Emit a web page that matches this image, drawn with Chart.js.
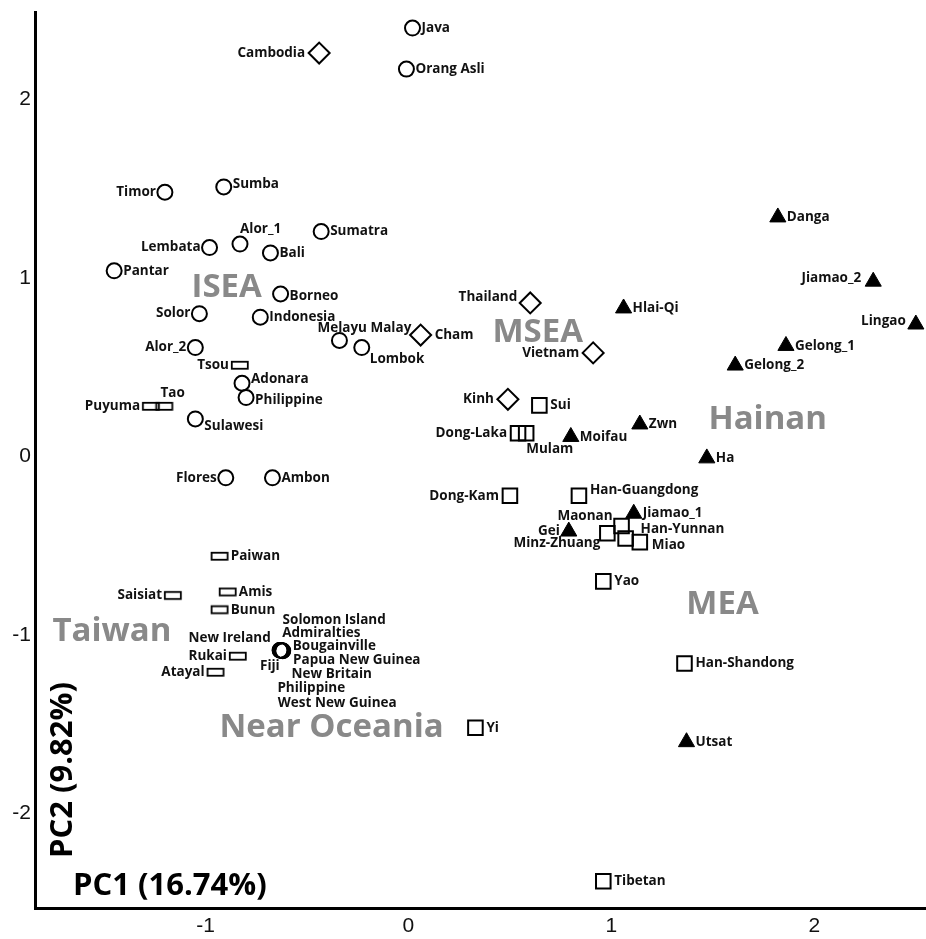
<!DOCTYPE html>
<html>
<head>
<meta charset="utf-8">
<script src="https://cdn.jsdelivr.net/npm/chart.js@4/dist/chart.umd.min.js"></script>
<style>
  html, body { margin: 0; padding: 0; background: #fff; overflow: hidden; }
  #c { display: block; }
</style>
</head>
<body>
<canvas id="c" width="926" height="939"></canvas>
<script>
// ---------------- DATA ----------------
const xTicks = [-1, 0, 1, 2];
const yTicks = [-2, -1, 0, 1, 2];

// ISEA (open circles)
const iseaNames = ['Java','Orang Asli','Timor','Sumba','Alor_1','Lembata','Bali','Sumatra','Pantar','Borneo','Solor','Indonesia','Melayu Malay','Lombok','Alor_2','Adonara','Philippine','Sulawesi','Flores','Ambon'];
const iseaPC1 = [0.02,-0.01,-1.20,-0.91,-0.83,-0.98,-0.68,-0.43,-1.45,-0.63,-1.03,-0.73,-0.34,-0.23,-1.05,-0.82,-0.80,-1.05,-0.90,-0.67];
const iseaPC2 = [2.40,2.17,1.48,1.51,1.19,1.17,1.14,1.26,1.04,0.91,0.80,0.78,0.65,0.61,0.61,0.41,0.33,0.21,-0.12,-0.12];

// Near Oceania (open circles)
const oceaniaNames = ['Solomon Island','Admiralties','New Ireland','Bougainville','Papua New Guinea','New Britain','Fiji','Philippine','West New Guinea'];
const oceaniaPC1 = [-0.630,-0.632,-0.634,-0.624,-0.618,-0.620,-0.633,-0.626,-0.619];
const oceaniaPC2 = [-1.085,-1.086,-1.085,-1.087,-1.089,-1.089,-1.087,-1.088,-1.090];

// Taiwan (open flat rectangles)
const taiwanNames = ['Tsou','Puyuma','Tao','Paiwan','Saisiat','Amis','Bunun','Rukai','Atayal'];
const taiwanPC1 = [-0.83,-1.268,-1.202,-0.93,-1.16,-0.89,-0.93,-0.84,-0.95];
const taiwanPC2 = [0.51,0.28,0.28,-0.56,-0.78,-0.76,-0.86,-1.12,-1.21];

// MSEA (open diamonds)
const mseaNames = ['Cambodia','Cham','Thailand','Vietnam','Kinh'];
const mseaPC1 = [-0.44,0.06,0.60,0.91,0.49];
const mseaPC2 = [2.26,0.68,0.86,0.58,0.32];

// MEA (open squares)
const meaNames = ['Maonan','Sui','Dong-Laka','Mulam','Dong-Kam','Han-Guangdong','Minz-Zhuang','Han-Yunnan','Miao','Yao','Han-Shandong','Yi','Tibetan'];
const meaPC1 = [1.05,0.645,0.54,0.58,0.50,0.84,0.98,1.07,1.14,0.96,1.36,0.33,0.96];
const meaPC2 = [-0.39,0.286,0.13,0.13,-0.22,-0.22,-0.43,-0.46,-0.48,-0.70,-1.16,-1.52,-2.38];

// Hainan (filled triangles)
const hainanNames = ['Danga','Jiamao_2','Hlai-Qi','Lingao','Gelong_1','Gelong_2','Zwn','Moifau','Ha','Jiamao_1','Gei','Utsat'];
const hainanPC1 = [1.82,2.29,1.06,2.50,1.86,1.61,1.14,0.80,1.47,1.11,0.79,1.37];
const hainanPC2 = [1.34,0.98,0.83,0.74,0.62,0.51,0.18,0.11,-0.01,-0.32,-0.42,-1.60];

// Region annotations (text, anchor in data units: left edge / baseline)
const regionNames = ['ISEA','MSEA','Hainan','MEA','Taiwan','Near Oceania'];
const regionPC1 = [-1.069,0.414,1.478,1.369,-1.754,-0.931];
const regionPC2 = [0.896,0.639,0.151,-0.885,-1.036,-1.574];

const xTitle = 'PC1 (16.74%)';
const yTitle = 'PC2 (9.82%)';

// ---------------- LAYOUT / STYLE ----------------
const labelFont = 'bold 13.5px "Open Sans"';
// default side per group and special placements [align, dx, dy] in px
const labelLayout = {
  isea: { gap: 9, left: ['Timor','Lembata','Solor','Alor_2','Flores'],
    special: { 'Sumba':['left',9,-3], 'Alor_1':['left',0,-15], 'Borneo':['left',9,2], 'Melayu Malay':['left',-22,-12],
               'Lombok':['left',8,12], 'Adonara':['left',9,-4], 'Philippine':['left',9,3], 'Sulawesi':['left',9,7] } },
  oceania: { gap: 9, left: [],
    special: { 'Solomon Island':['left',2,-30], 'Admiralties':['left',2,-17], 'New Ireland':['right',-9,-12],
               'Bougainville':['left',11,-4], 'Papua New Guinea':['left',10,9], 'New Britain':['left',9,23],
               'Fiji':['left',-20,16], 'Philippine':['left',-4,38], 'West New Guinea':['left',-5,52] } },
  taiwan: { gap: 11, left: ['Tsou','Puyuma','Saisiat','Rukai','Atayal'],
    special: { 'Tao':['left',-4,-13] } },
  msea: { gap: 14, left: ['Cambodia','Vietnam','Kinh'],
    special: { 'Thailand':['right',-13,-6] } },
  mea: { gap: 11, left: ['Dong-Laka','Dong-Kam'],
    special: { 'Mulam':['left',0,16], 'Han-Guangdong':['left',11,-6], 'Maonan':['right',-9,-10],
               'Minz-Zhuang':['right',-7,10], 'Han-Yunnan':['left',15,-9], 'Miao':['left',12,3] } },
  hainan: { gap: 9, left: ['Gei'],
    special: { 'Jiamao_2':['right',-12,-3], 'Lingao':['right',-10,-3] } }
};

function makeFlatRect(w, h, lw) {
  const c = document.createElement('canvas');
  c.width = Math.ceil(w + lw * 2);
  c.height = Math.ceil(h + lw * 2);
  const g = c.getContext('2d');
  g.lineWidth = lw;
  g.strokeStyle = '#000';
  g.strokeRect(lw, lw, w, h);
  return c;
}
const flatRect = makeFlatRect(16, 7, 1.8);

function pts(xs, ys) { return xs.map((x, i) => ({ x: x, y: ys[i] })); }

const groups = [
  { key: 'isea', names: iseaNames, data: pts(iseaPC1, iseaPC2), style: 'circle', radius: 7.5, bw: 2, fill: 'rgba(0,0,0,0)' },
  { key: 'oceania', names: oceaniaNames, data: pts(oceaniaPC1, oceaniaPC2), style: 'circle', radius: 7.5, bw: 1.4, fill: 'rgba(0,0,0,0)' },
  { key: 'taiwan', names: taiwanNames, data: pts(taiwanPC1, taiwanPC2), style: flatRect, radius: 8, bw: 0, fill: 'rgba(0,0,0,0)' },
  { key: 'msea', names: mseaNames, data: pts(mseaPC1, mseaPC2), style: 'rectRot', radius: 10.5, bw: 2, fill: 'rgba(0,0,0,0)' },
  { key: 'mea', names: meaNames, data: pts(meaPC1, meaPC2), style: 'rect', radius: 10.3, bw: 2, fill: 'rgba(0,0,0,0)' },
  { key: 'hainan', names: hainanNames, data: pts(hainanPC1, hainanPC2), style: 'triangle', radius: 9.3, bw: 1, fill: '#000' }
];

const datasets = groups.map(g => ({
  label: g.key,
  data: g.data,
  pointStyle: g.style,
  pointRadius: g.radius,
  pointHoverRadius: g.radius,
  pointBorderWidth: g.bw,
  pointBorderColor: '#000',
  pointBackgroundColor: g.fill,
  borderColor: '#000',
  backgroundColor: g.fill,
  clip: false
}));

const annotatePlugin = {
  id: 'annotate',
  afterDatasetsDraw(chart) {
    const ctx = chart.ctx;
    const xs = chart.scales.x, ys = chart.scales.y;
    ctx.save();
    // point labels
    ctx.font = labelFont;
    ctx.fillStyle = '#111';
    ctx.textBaseline = 'middle';
    groups.forEach((g, di) => {
      const meta = chart.getDatasetMeta(di);
      const lay = labelLayout[g.key];
      meta.data.forEach((el, j) => {
        const name = g.names[j];
        let spec = lay.special[name];
        if (!spec) {
          spec = lay.left.includes(name) ? ['right', -lay.gap, 0] : ['left', lay.gap, 0];
        }
        ctx.textAlign = spec[0];
        ctx.fillText(name, el.x + spec[1], el.y + spec[2]);
      });
    });
    // region labels
    ctx.font = 'bold 33px "Open Sans"';
    ctx.fillStyle = '#898989';
    ctx.textAlign = 'left';
    ctx.textBaseline = 'alphabetic';
    regionNames.forEach((r, i) => {
      ctx.fillText(r, xs.getPixelForValue(regionPC1[i]), ys.getPixelForValue(regionPC2[i]));
    });
    // axis titles inside plot
    const ca = chart.chartArea;
    ctx.fillStyle = '#000';
    ctx.font = 'bold 31px "Open Sans"';
    ctx.fillText(xTitle, ca.left + 38, ca.bottom - 13);
    ctx.translate(ca.left + 37, ca.bottom - 50);
    ctx.rotate(-Math.PI / 2);
    ctx.fillText(yTitle, 0, 0);
    ctx.restore();
  }
};

new Chart(document.getElementById('c'), {
  type: 'scatter',
  data: { datasets: datasets },
  options: {
    responsive: false,
    animation: false,
    events: [],
    layout: { autoPadding: false, padding: { top: 12, right: 0, bottom: 0, left: 0 } },
    plugins: { legend: { display: false }, tooltip: { enabled: false } },
    scales: {
      x: {
        type: 'linear', min: -1.84, max: 2.55,
        grid: { display: false, drawTicks: false },
        border: { display: true, color: '#000', width: 3 },
        ticks: { font: { family: '"Liberation Sans", Arial, sans-serif', size: 21 }, color: '#111', padding: 6 },
        afterBuildTicks(s) { s.ticks = xTicks.map(v => ({ value: v })); },
        afterFit(s) { s.height = 31; s.paddingLeft = 0; s.paddingRight = 0; }
      },
      y: {
        type: 'linear', min: -2.53, max: 2.49,
        grid: { display: false, drawTicks: false },
        border: { display: true, color: '#000', width: 3 },
        ticks: { font: { family: '"Liberation Sans", Arial, sans-serif', size: 21 }, color: '#111', padding: 4 },
        afterBuildTicks(s) { s.ticks = yTicks.map(v => ({ value: v })); },
        afterFit(s) { s.width = 35; s.paddingTop = 0; s.paddingBottom = 0; }
      }
    }
  },
  plugins: [annotatePlugin]
});
</script>
</body>
</html>
